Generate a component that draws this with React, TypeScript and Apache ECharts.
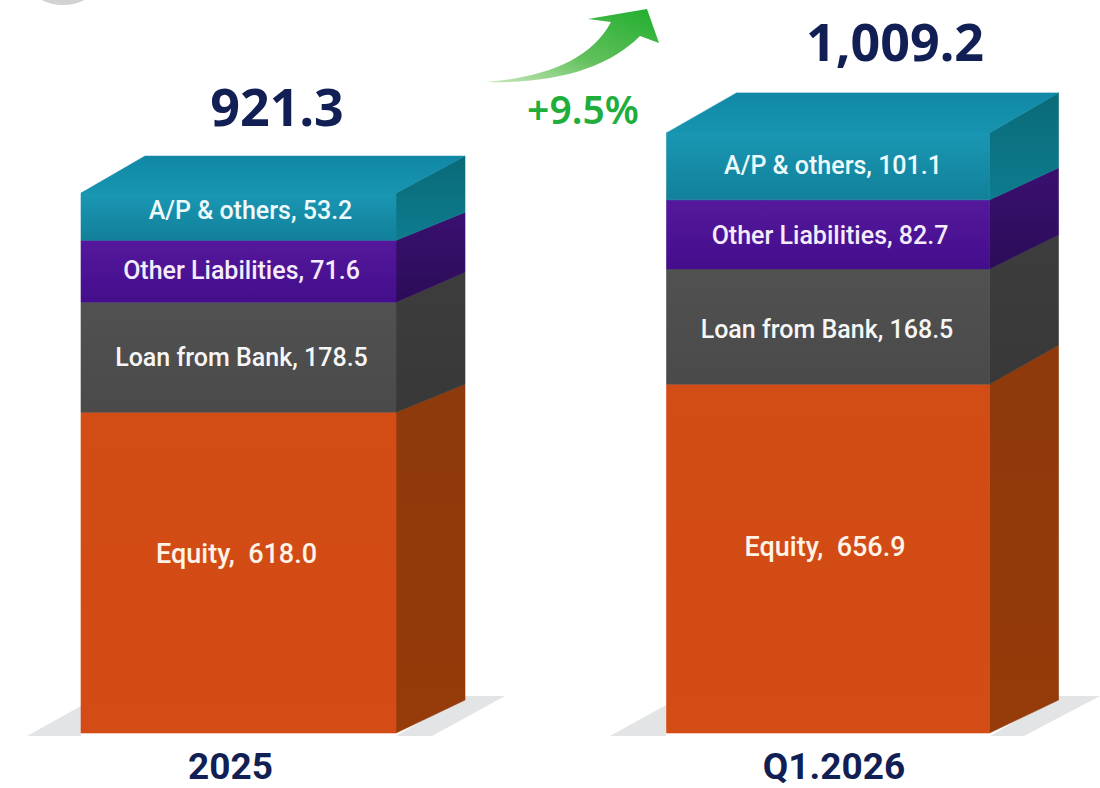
import React, { useEffect, useRef } from "react";
import * as echarts from "echarts";

// Labelled values, as printed in the picture
const categories = ["2025", "Q1.2026"];
const totals = ["921.3", "1,009.2"];
const equityValues = ["618.0", "656.9"];
const loanValues = ["178.5", "168.5"];
const otherValues = ["71.6", "82.7"];
const apValues = ["53.2", "101.1"];
const growthLabel = "+9.5%";

// The picture is not drawn to scale: these are the segment heights as drawn, in axis units
const equityDrawn = [618, 672];
const loanDrawn = [212, 222];
const otherDrawn = [119, 133];
const apDrawn = [91, 129];

const AXIS_MAX = 1412;
const NAVY = "#111f55";
const FONT = '"Noto Sans", sans-serif';

const arrowPath =
  "M485 82 C540 78 590 62 611 22 L588 19 L647 9 L659 43 L640 36 C610 66 560 84 485 82 Z";
echarts.graphic.registerShape("growthArrow", (echarts.graphic as any).extendPath(arrowPath, {}));

const barWidth = [315, 323];
const depthX = 69;
const topBackInset = [5, -1];
// rise of each stack boundary along the side face, bottom to top, per bar
const boundaryRise = [
  [33, 28, 30, 28, 37],
  [33, 39, 34, 32, 40],
];

const vGrad = (a: string, b: string) =>
  new echarts.graphic.LinearGradient(0, 0, 0, 1, [
    { offset: 0, color: a },
    { offset: 1, color: b },
  ]);

type Seg = {
  name: string;
  heights: number[];
  values: string[];
  front: [string, string];
  side: [string, string];
  nudge: [number, number][];
  text: string;
  fontSize: number;
  gap: string;
  top?: boolean;
};

const segments: Seg[] = [
  {
    name: "Equity",
    heights: equityDrawn,
    values: equityValues,
    front: ["#d24c16", "#d34b15"],
    side: ["#8e3a0c", "#963b0a"],
    nudge: [[-2, -19], [-3, -12]],
    text: "#fdf3e6",
    fontSize: 27,
    gap: ",\u00a0 ",
  },
  {
    name: "Loan from Bank",
    heights: loanDrawn,
    values: loanValues,
    front: ["#515151", "#4a4a4a"],
    side: ["#3d3d3d", "#383838"],
    nudge: [[3, 0], [-1, 3]],
    text: "#f6f6f6",
    fontSize: 25,
    gap: ", ",
  },
  {
    name: "Other Liabilities",
    heights: otherDrawn,
    values: otherValues,
    front: ["#55189c", "#430e8c"],
    side: ["#3a1070", "#2b0c58"],
    nudge: [[3, -1], [2, 1]],
    text: "#f5ecfb",
    fontSize: 25,
    gap: ", ",
  },
  {
    name: "A/P & others",
    heights: apDrawn,
    values: apValues,
    front: ["#1a97b3", "#12809a"],
    side: ["#0a6a78", "#0d7c8e"],
    nudge: [[12, -6], [5, -1]],
    text: "#eefbfd",
    fontSize: 25,
    gap: ", ",
    top: true,
  },
];

const stackBase = (segIndex: number, cat: number) =>
  segments.slice(0, segIndex).reduce((sum, s) => sum + s.heights[cat], 0);

const poly = (points: number[][], fill: any) => ({
  type: "polygon",
  shape: { points },
  style: { fill, stroke: fill, lineWidth: 0.6 },
});

const segmentSeries = segments.map((seg, si) => ({
  type: "custom",
  name: seg.name,
  silent: true,
  clip: false,
  coordinateSystem: "cartesian2d",
  data: categories.map((_, c) => [c, stackBase(si, c), stackBase(si, c) + seg.heights[c]]),
  encode: { x: 0, y: [1, 2] },
  renderItem: (_p: any, api: any) => {
    const c = api.value(0);
    const [cx, yLow] = api.coord([c, api.value(1)]);
    const [, yHigh] = api.coord([c, api.value(2)]);
    const half = barWidth[c] / 2;
    const l = cx - half;
    const r = cx + half;
    const lowRise = boundaryRise[c][si];
    const highRise = boundaryRise[c][si + 1];
    const children: any[] = [
      poly(
        [
          [r, yLow],
          [r + depthX, yLow - lowRise],
          [r + depthX, yHigh - highRise],
          [r, yHigh],
        ],
        vGrad(seg.side[0], seg.side[1]),
      ),
      poly(
        [
          [l, yLow],
          [r, yLow],
          [r, yHigh],
          [l, yHigh],
        ],
        vGrad(seg.front[0], seg.front[1]),
      ),
    ];
    if (seg.top) {
      children.push(
        poly(
          [
            [l, yHigh],
            [r, yHigh],
            [r + depthX, yHigh - highRise],
            [l + depthX - topBackInset[c], yHigh - highRise],
          ],
          vGrad("#1088a6", "#1794b0"),
        ),
      );
    }
    children.push({
      type: "text",
      x: cx + seg.nudge[c][0],
      y: (yLow + yHigh) / 2 + seg.nudge[c][1],
      style: {
        text: `${seg.name}${seg.gap}${seg.values[c]}`,
        fill: seg.text,
        font: `500 ${seg.fontSize}px Roboto, sans-serif`,
        textAlign: "center",
        verticalAlign: "middle",
      },
    });
    return { type: "group", children };
  },
}));

const totalNudge = [38.5, 67];
const totalRise = [88, 92];
const catNudge = [-8, 6];

const totalsSeries = {
  type: "custom",
  name: "Total",
  silent: true,
  clip: false,
  data: categories.map((_, c) => [c, stackBase(segments.length, c)]),
  encode: { x: 0, y: 1 },
  renderItem: (_p: any, api: any) => {
    const c = api.value(0);
    const [cx, y] = api.coord([c, api.value(1)]);
    const [, y0] = api.coord([c, 0]);
    return {
      type: "group",
      children: [
        {
          type: "text",
          x: cx + totalNudge[c],
          y: y - totalRise[c],
          style: {
            text: totals[c],
            fill: NAVY,
            font: `700 52px ${FONT}`,
            textAlign: "center",
            verticalAlign: "middle",
          },
        },
        {
          type: "text",
          x: cx + catNudge[c],
          y: y0 + 33,
          style: {
            text: categories[c],
            fill: NAVY,
            font: `700 37px Roboto, sans-serif`,
            textAlign: "center",
            verticalAlign: "middle",
          },
        },
      ],
    };
  },
};

const shadow = "#e2e4e6";

export default function App() {
  const ref = useRef<HTMLDivElement>(null);
  useEffect(() => {
    document.body.style.margin = "0";
    const chart = echarts.init(ref.current!, null, { renderer: "svg" });
    chart.setOption({
      animation: false,
      backgroundColor: "#ffffff",
      grid: { left: 238.5, width: 589.5, top: 0, height: 733 },
      xAxis: { type: "category", data: categories, show: false, boundaryGap: false },
      yAxis: { type: "value", min: 0, max: AXIS_MAX, show: false },
      graphic: [
        {
          type: "ellipse",
          shape: { cx: 63, cy: -20, rx: 36, ry: 25 },
          style: { fill: "#d2d2d2" },
          silent: true,
        },
        { type: "polygon", shape: { points: [[27, 736], [81, 706], [81, 736]] }, style: { fill: shadow } },
        { type: "polygon", shape: { points: [[396, 736], [465, 696], [505, 696], [432, 736]] }, style: { fill: shadow } },
        { type: "polygon", shape: { points: [[610, 736], [666, 705], [666, 736]] }, style: { fill: shadow } },
        { type: "polygon", shape: { points: [[990, 736], [1059, 696], [1100, 696], [1024, 736]] }, style: { fill: shadow } },
        {
          type: "growthArrow",
          style: {
            fill: new echarts.graphic.LinearGradient(0, 1, 1, 0, [
              { offset: 0, color: "#c9e9bd" },
              { offset: 0.45, color: "#62c05c" },
              { offset: 1, color: "#1fae2e" },
            ]),
          },
          silent: true,
        },
        {
          type: "text",
          x: 583,
          y: 108,
          style: {
            text: growthLabel,
            fill: "#1fae3c",
            font: `600 39px ${FONT}`,
            textAlign: "center",
            verticalAlign: "middle",
          },
          silent: true,
        },
      ],
      series: [...segmentSeries, totalsSeries],
    });
    return () => chart.dispose();
  }, []);
  return <div ref={ref} style={{ width: 1100, height: 788 }} />;
}
